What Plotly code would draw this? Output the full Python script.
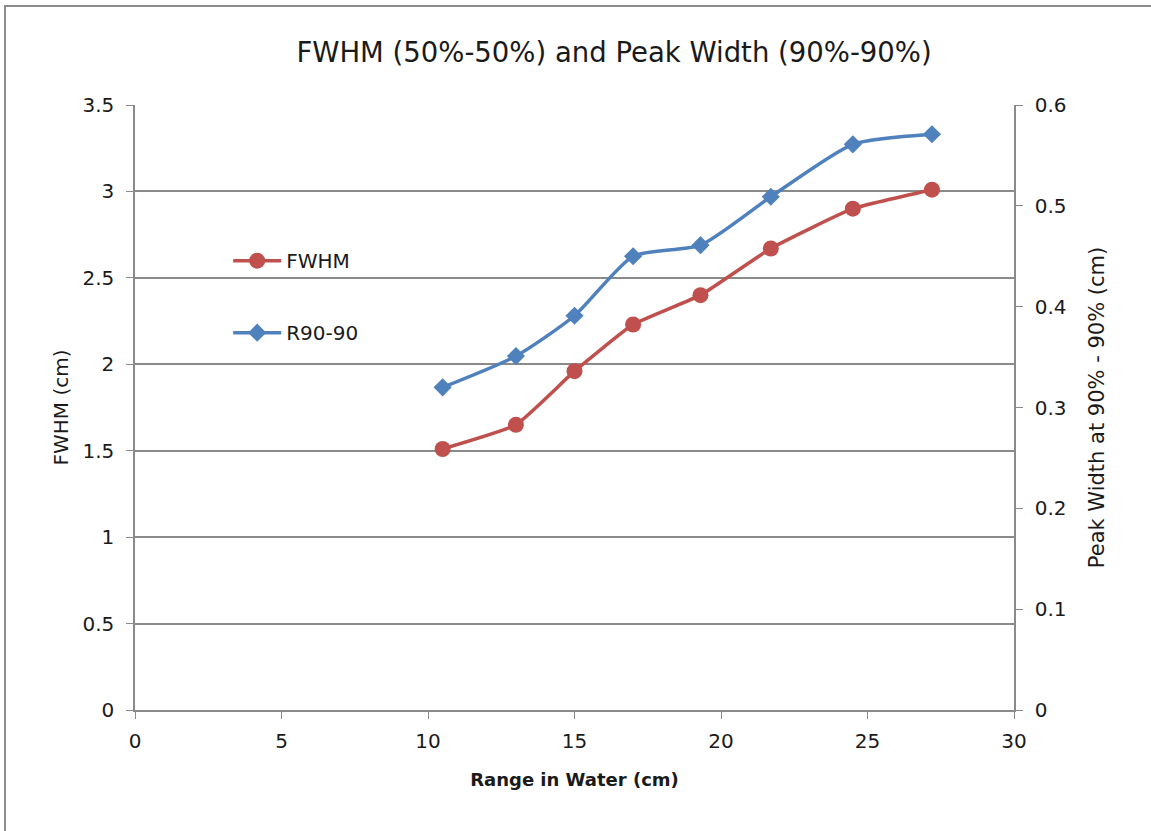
import plotly.graph_objects as go

range_cm = [10.5, 13.0, 15.0, 17.0, 19.3, 21.7, 24.5, 27.2]
fwhm = [1.51, 1.65, 1.96, 2.23, 2.40, 2.67, 2.90, 3.01]
r90_90 = [0.320, 0.351, 0.391, 0.450, 0.461, 0.509, 0.561, 0.571]

title_text = "FWHM (50%-50%) and Peak Width (90%-90%)"
x_title = "<b>Range in Water (cm)</b>"
y1_title = "FWHM (cm)"
y2_title = "Peak Width at 90% - 90% (cm)"

FONT = "'DejaVu Sans', 'Open Sans', sans-serif"
GRID = "#8a8a8a"
RED = "#c0504d"
BLUE = "#4f81bd"
TXT = "#1a1a1a"

fig = go.Figure()
fig.add_trace(go.Scatter(
    x=range_cm, y=fwhm, name="FWHM", mode="lines+markers",
    line=dict(color=RED, width=3.5, shape="spline", smoothing=0.4),
    marker=dict(symbol="circle", size=16, color=RED),
    legendgroup="a",
))
fig.add_trace(go.Scatter(
    x=range_cm, y=r90_90, name="R90-90", mode="lines+markers", yaxis="y2",
    line=dict(color=BLUE, width=3.5, shape="spline", smoothing=0.6),
    marker=dict(symbol="diamond", size=14, color=BLUE),
    legendgroup="b",
))

fig.update_layout(
    width=1151, height=831,
    margin=dict(l=135, r=137, t=105, b=121),
    paper_bgcolor="white", plot_bgcolor="white",
    font=dict(family=FONT, size=20, color=TXT),
    title=dict(text=title_text, x=0.5335, xanchor="center", y=0.937, yanchor="middle",
               font=dict(family=FONT, size=27.5, color=TXT)),
    xaxis=dict(range=[0, 30], dtick=5, tick0=0, showgrid=False, zeroline=False,
               showline=True, linecolor=GRID, linewidth=1.5,
               ticks="outside", ticklen=7, tickcolor=GRID, ticklabelstandoff=5,
               tickfont=dict(size=20),
               title=dict(text=x_title, standoff=22, font=dict(size=18))),
    yaxis=dict(range=[0, 3.5], dtick=0.5, tick0=0, showgrid=True, gridcolor=GRID, gridwidth=1.5,
               zeroline=False, showline=True, linecolor=GRID, linewidth=1.5,
               ticks="outside", ticklen=7, tickcolor=GRID, ticklabelstandoff=8,
               tickfont=dict(size=20),
               title=dict(text=y1_title, standoff=8, font=dict(size=20))),
    yaxis2=dict(range=[0, 0.6], dtick=0.1, tick0=0, overlaying="y", side="right",
                showgrid=False, zeroline=False, showline=True, linecolor=GRID, linewidth=1.5,
                ticks="outside", ticklen=7, tickcolor=GRID, ticklabelstandoff=8,
                tickfont=dict(size=20),
                title=dict(text=y2_title, standoff=24, font=dict(size=21))),
    legend=dict(x=0.106, y=0.775, xanchor="left", yanchor="top",
                bgcolor="rgba(0,0,0,0)", tracegroupgap=43,
                font=dict(size=20), itemwidth=48),
    showlegend=True,
    shapes=[dict(type="rect", xref="paper", yref="paper",
                 x0=(5 - 135) / 879, x1=(1165 - 135) / 879,
                 y0=(710 - 845) / 605, y1=1 + (105 - 6) / 605,
                 line=dict(color="#8c8c8c", width=2), fillcolor="rgba(0,0,0,0)", layer="below")],
)

fig.write_html("out.html")
